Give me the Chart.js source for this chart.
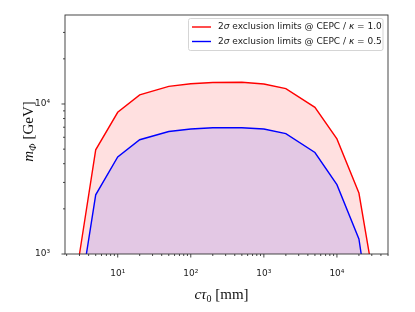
<!DOCTYPE html>
<html>
<head>
<meta charset="utf-8">
<script src="https://cdn.jsdelivr.net/npm/chart.js@4"></script>
<style>
  html, body { margin: 0; padding: 0; background: #fff; }
  #wrap { width: 415px; height: 312px; }
</style>
</head>
<body>
<div id="wrap"><canvas id="limitsChart" width="415" height="312"></canvas></div>
<script>
// c*tau0 [mm] and m_Phi [GeV]
const ctau = [3, 5, 10, 20, 50, 100, 200, 500, 1000, 2000, 5000, 10000, 20000, 30000];
const massKappa10 = [1000, 4950, 8800, 11500, 13100, 13650, 13900, 13950, 13600, 12650, 9500, 5850, 2550, 800];
const massKappa05 = [510, 2480, 4440, 5780, 6560, 6810, 6950, 6950, 6810, 6340, 4750, 2900, 1260, 340];

const xTickLabels = {10: '10¹', 100: '10²', 1000: '10³', 10000: '10⁴'};
const yTickLabels = {1000: '10³', 10000: '10⁴'};

const legendRows = [
  {color: 'red', kappa: '1.0'},
  {color: 'blue', kappa: '0.5'}
];

function toPoints(xs, ys) {
  return xs.map((x, i) => ({x: x, y: ys[i]}));
}

// tick positions 1..9 x 10^n inside the axis range
function niceValues(min, max) {
  const out = [];
  for (let e = Math.floor(Math.log10(min)); e <= Math.ceil(Math.log10(max)); e++) {
    for (let s = 1; s < 10; s++) {
      const v = s * Math.pow(10, e);
      if (v >= min && v <= max) out.push({v: v, major: s === 1});
    }
  }
  return out;
}

// draw text made of pieces with different fonts, left to right
function drawRuns(ctx, runs, x, y, align) {
  let total = 0;
  runs.forEach(r => { ctx.font = r.font; total += ctx.measureText(r.t).width; });
  let cx = align === 'center' ? x - total / 2 : x;
  runs.forEach(r => {
    ctx.font = r.font;
    ctx.fillText(r.t, cx, y + (r.dy || 0));
    cx += ctx.measureText(r.t).width;
  });
}

const mplLook = {
  id: 'mplLook',
  afterDatasetsDraw(chart) {
    const {ctx, chartArea: a, scales: {x, y}} = chart;
    ctx.save();
    ctx.strokeStyle = '#333';
    ctx.lineWidth = 0.9;
    ctx.strokeRect(a.left, a.top, a.right - a.left, a.bottom - a.top);

    niceValues(x.min, x.max).forEach(t => {
      const px = x.getPixelForValue(t.v);
      ctx.beginPath();
      ctx.moveTo(px, a.bottom);
      ctx.lineTo(px, a.bottom + (t.major ? 3.5 : 2));
      ctx.stroke();
    });
    niceValues(y.min, y.max).forEach(t => {
      const py = y.getPixelForValue(t.v);
      ctx.beginPath();
      ctx.moveTo(a.left, py);
      ctx.lineTo(a.left - (t.major ? 3.5 : 2), py);
      ctx.stroke();
    });
    ctx.restore();
  },
  afterDraw(chart) {
    const {ctx, chartArea: a} = chart;
    ctx.save();
    ctx.fillStyle = '#111';
    ctx.textBaseline = 'alphabetic';

    // x title: c tau_0 [mm]
    const serif = '"Liberation Serif", "DejaVu Serif", serif';
    drawRuns(ctx, [
      {t: 'cτ', font: 'italic 15px ' + serif},
      {t: '0', font: '10px ' + serif, dy: 3},
      {t: ' [mm]', font: '15px ' + serif}
    ], (a.left + a.right) / 2 - 5, 299, 'center');

    // y title: m_Phi [GeV]
    ctx.save();
    ctx.translate(33, (a.top + a.bottom) / 2 - 3);
    ctx.rotate(-Math.PI / 2);
    drawRuns(ctx, [
      {t: 'm', font: 'italic 15px ' + serif},
      {t: 'Φ', font: 'italic 10px ' + serif, dy: 3},
      {t: ' [GeV]', font: '15px ' + serif}
    ], 0, 0, 'center');
    ctx.restore();

    // legend box
    const bx = 188.5, by = 18.5, bw = 194.5, bh = 32;
    ctx.beginPath();
    ctx.roundRect(bx, by, bw, bh, 2);
    ctx.fillStyle = 'rgba(255,255,255,0.8)';
    ctx.fill();
    ctx.strokeStyle = '#d0d0d0';
    ctx.lineWidth = 0.9;
    ctx.stroke();

    const sans = '"DejaVu Sans", sans-serif';
    ctx.textBaseline = 'middle';
    legendRows.forEach((row, i) => {
      const ry = 27 + i * 14.5;
      ctx.strokeStyle = row.color;
      ctx.lineWidth = 1.4;
      ctx.beginPath();
      ctx.moveTo(192, ry);
      ctx.lineTo(211, ry);
      ctx.stroke();
      ctx.fillStyle = '#1a1a1a';
      drawRuns(ctx, [
        {t: '2', font: '9px ' + sans},
        {t: 'σ', font: 'italic 9px ' + sans},
        {t: ' exclusion limits @ CEPC / ', font: '9px ' + sans},
        {t: 'κ', font: 'italic 9px ' + sans},
        {t: ' = ' + row.kappa, font: '9px ' + sans}
      ], 218, ry, 'left');
    });
    ctx.restore();
  }
};

const ctx = document.getElementById('limitsChart').getContext('2d');
new Chart(ctx, {
  type: 'line',
  data: {
    datasets: [
      {
        label: '2σ exclusion limits @ CEPC / κ = 1.0',
        data: toPoints(ctau, massKappa10),
        borderColor: 'red',
        backgroundColor: 'rgba(255, 0, 0, 0.12)',
        borderWidth: 1.4,
        fill: 'start',
        pointRadius: 0,
        tension: 0,
        order: 2
      },
      {
        label: '2σ exclusion limits @ CEPC / κ = 0.5',
        data: toPoints(ctau, massKappa05),
        borderColor: 'blue',
        backgroundColor: 'rgba(0, 0, 255, 0.11)',
        borderWidth: 1.4,
        fill: 'start',
        pointRadius: 0,
        tension: 0,
        order: 1
      }
    ]
  },
  options: {
    responsive: false,
    animation: false,
    layout: { padding: { top: 15, right: 27, left: 0, bottom: 0 } },
    plugins: {
      legend: { display: false },
      tooltip: { enabled: false }
    },
    scales: {
      x: {
        type: 'logarithmic',
        min: 1.9,
        max: 50000,
        grid: { display: false },
        border: { display: false },
        afterFit: (scale) => { scale.height = 58; },
        ticks: {
          autoSkip: false,
          maxRotation: 0,
          padding: 6,
          color: '#222',
          font: { family: 'DejaVu Sans', size: 9 },
          callback: (v) => xTickLabels[Math.round(v)] || ''
        }
      },
      y: {
        type: 'logarithmic',
        min: 1000,
        max: 39200,
        grid: { display: false },
        border: { display: false },
        afterFit: (scale) => { scale.width = 65; },
        ticks: {
          autoSkip: false,
          padding: 7,
          color: '#222',
          font: { family: 'DejaVu Sans', size: 9 },
          callback: (v) => yTickLabels[Math.round(v)] || ''
        }
      }
    }
  },
  plugins: [mplLook]
});
</script>
</body>
</html>
